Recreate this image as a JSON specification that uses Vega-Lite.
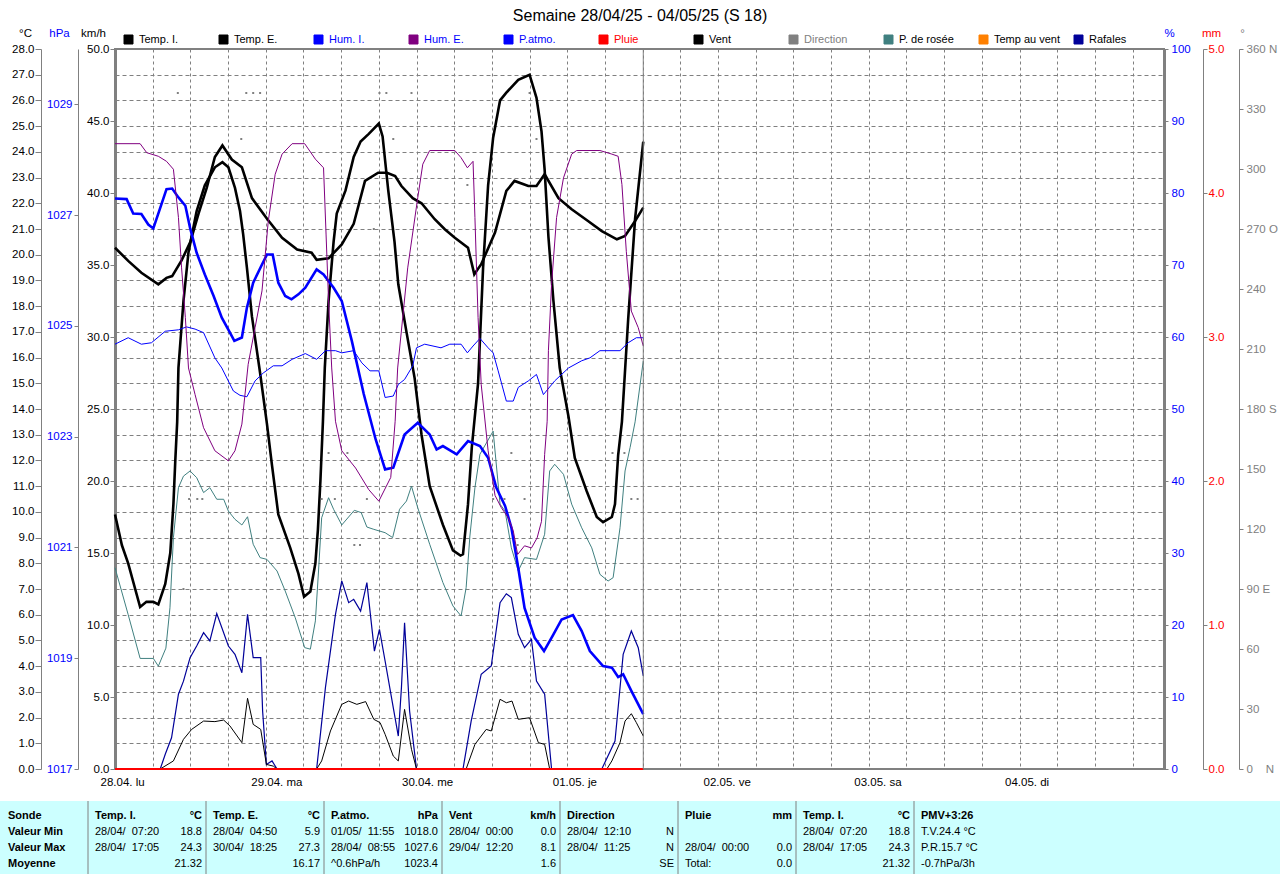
{
  "$schema": "https://vega.github.io/schema/vega-lite/v6.json",
  "padding": {"left": 0, "top": 8, "right": 0, "bottom": 0},
  "background": "white",
  "config": {
    "font": "Liberation Sans",
    "view": {"stroke": "#808080", "strokeWidth": 2},
    "axis": {"labelFont": "Liberation Sans", "labelFontSize": 11.5, "titleFont": "Liberation Sans", "titleFontSize": 11.5, "titleFontWeight": "normal", "domainColor": "#808080", "tickColor": "#808080", "labelColor": "#000000", "titleColor": "#000000", "grid": false, "labelOverlap": false}
  },
  "title": {"text": "Semaine 28/04/25 - 04/05/25 (S 18)", "anchor": "middle", "frame": "bounds", "fontSize": 16, "fontWeight": "normal", "font": "Liberation Sans", "color": "#000000", "offset": 2},
  "datasets": {
    "ti": [{"h":0,"v":20.27},{"h":2.1,"v":19.76},{"h":4.2,"v":19.3},{"h":6.9,"v":18.85},{"h":8.2,"v":19.1},{"h":9.1,"v":19.17},{"h":10.6,"v":19.78},{"h":12.0,"v":20.5},{"h":13.3,"v":21.6},{"h":14.6,"v":22.6},{"h":15.9,"v":23.8},{"h":17.1,"v":24.25},{"h":18.6,"v":23.7},{"h":20.2,"v":23.4},{"h":21.8,"v":22.2},{"h":24.2,"v":21.4},{"h":26.6,"v":20.66},{"h":29.0,"v":20.2},{"h":31.3,"v":20.08},{"h":32.1,"v":19.8},{"h":34.0,"v":19.86},{"h":36.1,"v":20.4},{"h":38.0,"v":21.2},{"h":39.8,"v":22.87},{"h":41.9,"v":23.19},{"h":43.3,"v":23.19},{"h":44.6,"v":23.06},{"h":45.6,"v":22.67},{"h":47.4,"v":22.2},{"h":48.8,"v":22.0},{"h":50.9,"v":21.38},{"h":52.5,"v":20.99},{"h":54.1,"v":20.66},{"h":56.2,"v":20.27},{"h":57.2,"v":19.24},{"h":58.3,"v":19.63},{"h":60.5,"v":20.86},{"h":62.3,"v":22.48},{"h":63.6,"v":22.87},{"h":65.8,"v":22.67},{"h":67.1,"v":22.67},{"h":68.4,"v":23.13},{"h":70.6,"v":22.2},{"h":72.7,"v":21.77},{"h":75.3,"v":21.31},{"h":77.5,"v":20.92},{"h":79.9,"v":20.6},{"h":81.2,"v":20.73},{"h":82.8,"v":21.31},{"h":84.1,"v":21.83}],
    "te": [{"h":0,"v":9.9},{"h":1.1,"v":8.7},{"h":2.1,"v":8.0},{"h":4.0,"v":6.3},{"h":5.0,"v":6.5},{"h":6.1,"v":6.5},{"h":6.9,"v":6.4},{"h":8.0,"v":7.2},{"h":8.8,"v":8.4},{"h":9.3,"v":10.3},{"h":9.6,"v":12.0},{"h":9.9,"v":13.5},{"h":10.1,"v":15.6},{"h":10.9,"v":18.2},{"h":11.7,"v":20.1},{"h":13.0,"v":21.7},{"h":14.3,"v":22.7},{"h":15.9,"v":23.4},{"h":17.1,"v":23.6},{"h":18.05,"v":23.4},{"h":19.1,"v":22.6},{"h":19.9,"v":21.7},{"h":20.4,"v":20.8},{"h":21.0,"v":19.5},{"h":21.8,"v":17.6},{"h":23.1,"v":15.4},{"h":24.2,"v":13.4},{"h":25.0,"v":11.8},{"h":26.0,"v":9.9},{"h":27.9,"v":8.6},{"h":29.2,"v":7.6},{"h":30.1,"v":6.7},{"h":31.1,"v":6.9},{"h":31.9,"v":8.0},{"h":32.3,"v":9.3},{"h":32.7,"v":11.2},{"h":33.1,"v":13.5},{"h":33.4,"v":15.6},{"h":34.0,"v":18.2},{"h":34.8,"v":20.5},{"h":35.3,"v":21.6},{"h":36.7,"v":22.5},{"h":38.0,"v":23.8},{"h":39.1,"v":24.4},{"h":40.4,"v":24.7},{"h":42.0,"v":25.1},{"h":42.6,"v":24.6},{"h":43.5,"v":22.5},{"h":44.5,"v":20.5},{"h":45.1,"v":18.85},{"h":46.4,"v":17.0},{"h":47.7,"v":15.2},{"h":48.8,"v":13.0},{"h":50.1,"v":11.0},{"h":52.2,"v":9.5},{"h":53.8,"v":8.5},{"h":55.0,"v":8.3},{"h":55.4,"v":8.35},{"h":56.2,"v":10.3},{"h":56.8,"v":12.5},{"h":57.8,"v":15.0},{"h":58.6,"v":19.5},{"h":59.4,"v":22.7},{"h":60.2,"v":24.55},{"h":61.3,"v":26.0},{"h":62.3,"v":26.3},{"h":64.2,"v":26.8},{"h":66.0,"v":27.0},{"h":67.1,"v":26.1},{"h":67.9,"v":24.8},{"h":68.4,"v":23.3},{"h":69.0,"v":20.7},{"h":69.8,"v":18.2},{"h":70.8,"v":15.6},{"h":72.2,"v":13.7},{"h":73.2,"v":12.1},{"h":75.1,"v":10.8},{"h":76.7,"v":9.8},{"h":77.7,"v":9.6},{"h":79.1,"v":9.8},{"h":79.6,"v":10.3},{"h":80.1,"v":12.2},{"h":80.7,"v":13.5},{"h":81.7,"v":17.5},{"h":82.8,"v":21.4},{"h":84.1,"v":24.4}],
    "dp": [{"h":0,"v":7.83},{"h":2.1,"v":6.0},{"h":4.0,"v":4.3},{"h":6.1,"v":4.3},{"h":6.9,"v":4.0},{"h":8.1,"v":4.7},{"h":8.75,"v":6.27},{"h":9.3,"v":9.0},{"h":10.1,"v":10.94},{"h":10.9,"v":11.39},{"h":11.95,"v":11.59},{"h":13.0,"v":11.33},{"h":14.1,"v":10.75},{"h":15.1,"v":10.94},{"h":16.2,"v":10.49},{"h":17.3,"v":10.49},{"h":18.05,"v":10.03},{"h":19.1,"v":9.71},{"h":20.2,"v":9.49},{"h":21.1,"v":9.81},{"h":22.0,"v":8.74},{"h":23.1,"v":8.22},{"h":24.2,"v":8.15},{"h":25.8,"v":7.7},{"h":27.1,"v":6.92},{"h":28.7,"v":5.88},{"h":30.2,"v":4.72},{"h":31.1,"v":4.66},{"h":31.9,"v":5.76},{"h":32.4,"v":7.7},{"h":32.9,"v":9.77},{"h":34.0,"v":10.55},{"h":34.8,"v":10.1},{"h":36.1,"v":9.49},{"h":38.1,"v":10.06},{"h":39.2,"v":9.97},{"h":40.1,"v":9.41},{"h":41.2,"v":9.32},{"h":43.0,"v":9.19},{"h":44.2,"v":9.0},{"h":45.3,"v":10.1},{"h":46.4,"v":10.42},{"h":47.2,"v":11.0},{"h":48.2,"v":10.16},{"h":50.1,"v":8.74},{"h":52.2,"v":7.25},{"h":53.8,"v":6.34},{"h":55.1,"v":5.95},{"h":55.9,"v":7.05},{"h":56.5,"v":9.06},{"h":57.3,"v":10.94},{"h":58.1,"v":12.24},{"h":60.2,"v":13.14},{"h":61.3,"v":10.3},{"h":62.1,"v":10.03},{"h":63.1,"v":8.6},{"h":64.2,"v":7.7},{"h":65.2,"v":8.22},{"h":67.1,"v":8.15},{"h":68.4,"v":9.13},{"h":69.2,"v":11.59},{"h":70.0,"v":11.85},{"h":71.4,"v":11.46},{"h":72.7,"v":10.3},{"h":74.3,"v":9.38},{"h":75.9,"v":8.6},{"h":77.2,"v":7.57},{"h":78.5,"v":7.31},{"h":79.3,"v":7.44},{"h":80.4,"v":9.38},{"h":81.2,"v":11.59},{"h":82.0,"v":12.5},{"h":82.8,"v":13.5},{"h":84.1,"v":15.87}],
    "pa": [{"h":0,"v":1027.3},{"h":1.85,"v":1027.29},{"h":2.9,"v":1027.03},{"h":4.2,"v":1027.02},{"h":5.3,"v":1026.83},{"h":6.1,"v":1026.76},{"h":7.2,"v":1027.13},{"h":8.2,"v":1027.47},{"h":9.1,"v":1027.48},{"h":10.1,"v":1027.32},{"h":11.2,"v":1027.17},{"h":11.95,"v":1026.77},{"h":13.0,"v":1026.32},{"h":14.3,"v":1025.93},{"h":15.7,"v":1025.54},{"h":17.0,"v":1025.15},{"h":18.3,"v":1024.88},{"h":19.0,"v":1024.73},{"h":20.2,"v":1024.79},{"h":21.0,"v":1025.33},{"h":22.0,"v":1025.78},{"h":23.4,"v":1026.11},{"h":24.2,"v":1026.29},{"h":25.1,"v":1026.29},{"h":26.0,"v":1025.78},{"h":27.1,"v":1025.54},{"h":28.1,"v":1025.48},{"h":29.2,"v":1025.57},{"h":30.3,"v":1025.69},{"h":32.1,"v":1026.02},{"h":33.2,"v":1025.93},{"h":34.8,"v":1025.69},{"h":36.1,"v":1025.45},{"h":37.7,"v":1024.73},{"h":39.6,"v":1023.77},{"h":41.5,"v":1022.95},{"h":43.0,"v":1022.41},{"h":44.3,"v":1022.44},{"h":46.1,"v":1023.04},{"h":48.2,"v":1023.25},{"h":50.1,"v":1023.04},{"h":51.2,"v":1022.77},{"h":52.2,"v":1022.83},{"h":54.4,"v":1022.68},{"h":56.2,"v":1022.92},{"h":58.1,"v":1022.83},{"h":59.4,"v":1022.62},{"h":60.7,"v":1022.08},{"h":62.1,"v":1021.75},{"h":63.1,"v":1021.36},{"h":64.2,"v":1020.63},{"h":65.2,"v":1019.91},{"h":66.8,"v":1019.37},{"h":68.3,"v":1019.13},{"h":69.8,"v":1019.43},{"h":71.1,"v":1019.7},{"h":72.9,"v":1019.78},{"h":74.3,"v":1019.49},{"h":75.6,"v":1019.13},{"h":77.7,"v":1018.86},{"h":79.1,"v":1018.83},{"h":80.1,"v":1018.66},{"h":80.9,"v":1018.71},{"h":82.2,"v":1018.41},{"h":84.1,"v":1017.99}],
    "he": [{"h":0,"v":86.85},{"h":4.0,"v":86.85},{"h":5.05,"v":85.6},{"h":6.9,"v":85.1},{"h":8.2,"v":84.4},{"h":9.3,"v":83.3},{"h":10.1,"v":76.6},{"h":10.6,"v":69.6},{"h":11.2,"v":62.7},{"h":11.7,"v":55.7},{"h":12.75,"v":52.0},{"h":14.1,"v":47.4},{"h":15.9,"v":44.2},{"h":18.05,"v":42.8},{"h":19.1,"v":44.2},{"h":20.2,"v":47.9},{"h":21.2,"v":56.2},{"h":22.3,"v":61.3},{"h":23.4,"v":66.4},{"h":24.4,"v":76.1},{"h":25.5,"v":82.6},{"h":26.6,"v":85.4},{"h":28.2,"v":86.85},{"h":30.2,"v":86.85},{"h":31.9,"v":84.7},{"h":33.2,"v":83.5},{"h":33.6,"v":74.3},{"h":34.0,"v":65.0},{"h":34.5,"v":55.7},{"h":35.1,"v":48.3},{"h":36.1,"v":44.2},{"h":38.3,"v":41.8},{"h":40.4,"v":38.8},{"h":42.0,"v":37.2},{"h":43.9,"v":40.5},{"h":44.6,"v":48.3},{"h":45.0,"v":55.7},{"h":46.6,"v":69.6},{"h":48.2,"v":79.35},{"h":49.0,"v":84.0},{"h":50.1,"v":85.9},{"h":54.1,"v":85.9},{"h":55.1,"v":84.9},{"h":56.1,"v":83.5},{"h":57.0,"v":84.4},{"h":57.3,"v":76.6},{"h":57.8,"v":62.7},{"h":58.3,"v":53.4},{"h":59.4,"v":44.2},{"h":60.5,"v":38.0},{"h":61.5,"v":36.3},{"h":62.6,"v":34.9},{"h":63.4,"v":33.1},{"h":64.1,"v":29.8},{"h":65.2,"v":31.0},{"h":66.3,"v":30.7},{"h":67.2,"v":32.1},{"h":67.9,"v":34.4},{"h":68.4,"v":43.7},{"h":68.8,"v":48.3},{"h":69.0,"v":58.1},{"h":69.5,"v":67.3},{"h":70.3,"v":76.6},{"h":71.4,"v":82.1},{"h":72.7,"v":85.4},{"h":73.5,"v":85.9},{"h":77.2,"v":85.9},{"h":79.1,"v":85.4},{"h":80.1,"v":85.1},{"h":80.7,"v":81.2},{"h":81.4,"v":71.9},{"h":82.2,"v":63.6},{"h":83.3,"v":61.3},{"h":84.1,"v":58.75}],
    "hi": [{"h":0,"v":59.0},{"h":2.1,"v":59.9},{"h":4.2,"v":59.0},{"h":5.8,"v":59.2},{"h":8.0,"v":60.8},{"h":10.1,"v":61.0},{"h":11.4,"v":61.4},{"h":12.75,"v":61.1},{"h":14.1,"v":60.6},{"h":15.9,"v":57.1},{"h":17.0,"v":55.7},{"h":18.85,"v":52.5},{"h":19.9,"v":51.9},{"h":21.0,"v":51.7},{"h":22.3,"v":53.9},{"h":23.6,"v":55.0},{"h":25.2,"v":56.0},{"h":26.6,"v":56.0},{"h":28.2,"v":56.9},{"h":30.3,"v":57.7},{"h":32.1,"v":56.9},{"h":33.5,"v":58.1},{"h":35.1,"v":58.1},{"h":36.1,"v":57.8},{"h":38.0,"v":58.1},{"h":39.3,"v":56.4},{"h":40.6,"v":55.3},{"h":42.0,"v":55.3},{"h":43.0,"v":51.6},{"h":44.3,"v":51.8},{"h":45.1,"v":53.4},{"h":46.1,"v":54.1},{"h":47.4,"v":56.0},{"h":48.0,"v":58.5},{"h":49.3,"v":59.0},{"h":51.9,"v":58.5},{"h":53.3,"v":59.0},{"h":55.1,"v":59.0},{"h":56.1,"v":57.8},{"h":57.0,"v":58.75},{"h":58.1,"v":59.8},{"h":59.4,"v":58.5},{"h":60.2,"v":57.8},{"h":61.0,"v":55.3},{"h":62.3,"v":51.1},{"h":63.4,"v":51.1},{"h":64.2,"v":53.0},{"h":65.8,"v":53.9},{"h":67.1,"v":54.8},{"h":68.2,"v":52.0},{"h":70.0,"v":53.9},{"h":72.2,"v":55.7},{"h":74.3,"v":56.7},{"h":75.6,"v":57.1},{"h":77.2,"v":58.1},{"h":80.4,"v":58.1},{"h":81.7,"v":59.2},{"h":83.0,"v":59.9},{"h":84.1,"v":59.9}],
    "rf": [{"h":0,"v":0},{"h":7.2,"v":0},{"h":8.0,"v":1.02},{"h":9.0,"v":2.17},{"h":10.1,"v":5.19},{"h":10.9,"v":6.1},{"h":11.95,"v":7.73},{"h":13.0,"v":8.54},{"h":14.1,"v":9.47},{"h":15.1,"v":8.89},{"h":16.2,"v":10.79},{"h":18.05,"v":8.54},{"h":19.1,"v":7.96},{"h":20.2,"v":6.69},{"h":21.1,"v":10.74},{"h":22.0,"v":7.73},{"h":23.2,"v":7.73},{"h":23.5,"v":4.03},{"h":24.1,"v":0.32},{"h":25.0,"v":0.56},{"h":25.8,"v":0},{"h":32.1,"v":0},{"h":33.5,"v":5.65},{"h":35.1,"v":10.74},{"h":36.1,"v":13.06},{"h":37.2,"v":11.55},{"h":38.0,"v":11.78},{"h":39.1,"v":10.97},{"h":40.1,"v":12.94},{"h":41.3,"v":8.19},{"h":42.1,"v":9.7},{"h":43.0,"v":7.5},{"h":44.3,"v":4.26},{"h":45.1,"v":2.29},{"h":45.6,"v":5.65},{"h":46.1,"v":10.16},{"h":46.9,"v":4.03},{"h":48.0,"v":0},{"h":55.4,"v":0},{"h":56.7,"v":3.33},{"h":58.3,"v":6.58},{"h":59.9,"v":7.15},{"h":61.3,"v":11.55},{"h":62.3,"v":12.17},{"h":63.1,"v":11.9},{"h":64.2,"v":9.35},{"h":65.2,"v":8.42},{"h":66.3,"v":9.0},{"h":67.1,"v":6.1},{"h":68.4,"v":5.19},{"h":69.5,"v":0},{"h":77.5,"v":0},{"h":79.6,"v":1.94},{"h":80.9,"v":7.96},{"h":82.2,"v":9.58},{"h":83.3,"v":8.42},{"h":84.1,"v":6.46}],
    "vt": [{"h":0,"v":0},{"h":7.2,"v":0},{"h":9.3,"v":0.56},{"h":10.9,"v":2.06},{"h":12.2,"v":2.75},{"h":14.1,"v":3.33},{"h":15.9,"v":3.29},{"h":17.3,"v":3.4},{"h":18.3,"v":2.99},{"h":20.2,"v":1.83},{"h":21.1,"v":4.91},{"h":22.0,"v":3.1},{"h":23.2,"v":2.75},{"h":24.1,"v":0.32},{"h":25.2,"v":0.2},{"h":25.8,"v":0},{"h":32.1,"v":0},{"h":32.9,"v":0.56},{"h":34.3,"v":2.64},{"h":36.1,"v":4.49},{"h":37.2,"v":4.72},{"h":38.5,"v":4.49},{"h":39.9,"v":4.68},{"h":41.2,"v":3.45},{"h":42.2,"v":3.22},{"h":43.0,"v":2.41},{"h":44.3,"v":0.9},{"h":45.1,"v":0.56},{"h":46.1,"v":4.14},{"h":47.2,"v":1.37},{"h":48.0,"v":0},{"h":55.9,"v":0},{"h":57.3,"v":1.71},{"h":59.1,"v":2.75},{"h":59.9,"v":2.64},{"h":61.3,"v":4.84},{"h":62.3,"v":4.6},{"h":63.2,"v":4.72},{"h":64.2,"v":3.45},{"h":66.0,"v":3.56},{"h":67.4,"v":1.83},{"h":68.4,"v":1.71},{"h":69.2,"v":0},{"h":78.3,"v":0},{"h":79.1,"v":0.56},{"h":80.4,"v":1.83},{"h":81.2,"v":3.33},{"h":82.2,"v":3.84},{"h":83.0,"v":3.22},{"h":84.1,"v":2.29}],
    "pl": [{"h":0,"v":0},{"h":84.1,"v":0}],
    "dir": [{"h":10.0,"v":338},{"h":20.9,"v":338},{"h":22.0,"v":338},{"h":23.1,"v":338},{"h":20.1,"v":315},{"h":10.9,"v":90},{"h":11.8,"v":135},{"h":13.1,"v":135},{"h":13.9,"v":135},{"h":32.9,"v":135},{"h":34.0,"v":158},{"h":35.0,"v":135},{"h":37.0,"v":158},{"h":38.1,"v":112},{"h":39.0,"v":112},{"h":40.1,"v":135},{"h":41.2,"v":270},{"h":42.1,"v":338},{"h":43.2,"v":338},{"h":44.3,"v":315},{"h":47.2,"v":338},{"h":56.1,"v":292},{"h":60.2,"v":135},{"h":62.0,"v":135},{"h":63.1,"v":158},{"h":64.1,"v":112},{"h":65.2,"v":135},{"h":66.0,"v":338},{"h":67.1,"v":315},{"h":79.2,"v":158},{"h":81.1,"v":158},{"h":82.2,"v":135},{"h":83.2,"v":135}],
    "now": [{"h":84.1}],
    "seps": [{"c":1},{"c":2},{"c":3},{"c":4},{"c":5},{"c":6},{"c":7},{"c":8}],
    "tbl": [
      {"c":0,"r":0,"t":"Sonde","a":"s","w":"b"},
      {"c":0,"r":1,"t":"Valeur Min","a":"s","w":"b"},
      {"c":0,"r":2,"t":"Valeur Max","a":"s","w":"b"},
      {"c":0,"r":3,"t":"Moyenne","a":"s","w":"b"},
      {"c":1,"r":0,"t":"Temp. I.","a":"l","w":"b"},{"c":1,"r":0,"t":"°C","a":"r","w":"b"},
      {"c":1,"r":1,"t":"28/04/\u00a0 07:20","a":"l","w":"n"},{"c":1,"r":1,"t":"18.8","a":"r","w":"n"},
      {"c":1,"r":2,"t":"28/04/\u00a0 17:05","a":"l","w":"n"},{"c":1,"r":2,"t":"24.3","a":"r","w":"n"},
      {"c":1,"r":3,"t":"21.32","a":"r","w":"n"},
      {"c":2,"r":0,"t":"Temp. E.","a":"l","w":"b"},{"c":2,"r":0,"t":"°C","a":"r","w":"b"},
      {"c":2,"r":1,"t":"28/04/\u00a0 04:50","a":"l","w":"n"},{"c":2,"r":1,"t":"5.9","a":"r","w":"n"},
      {"c":2,"r":2,"t":"30/04/\u00a0 18:25","a":"l","w":"n"},{"c":2,"r":2,"t":"27.3","a":"r","w":"n"},
      {"c":2,"r":3,"t":"16.17","a":"r","w":"n"},
      {"c":3,"r":0,"t":"P.atmo.","a":"l","w":"b"},{"c":3,"r":0,"t":"hPa","a":"r","w":"b"},
      {"c":3,"r":1,"t":"01/05/\u00a0 11:55","a":"l","w":"n"},{"c":3,"r":1,"t":"1018.0","a":"r","w":"n"},
      {"c":3,"r":2,"t":"28/04/\u00a0 08:55","a":"l","w":"n"},{"c":3,"r":2,"t":"1027.6","a":"r","w":"n"},
      {"c":3,"r":3,"t":"^0.6hPa/h","a":"l","w":"n"},{"c":3,"r":3,"t":"1023.4","a":"r","w":"n"},
      {"c":4,"r":0,"t":"Vent","a":"l","w":"b"},{"c":4,"r":0,"t":"km/h","a":"r","w":"b"},
      {"c":4,"r":1,"t":"28/04/\u00a0 00:00","a":"l","w":"n"},{"c":4,"r":1,"t":"0.0","a":"r","w":"n"},
      {"c":4,"r":2,"t":"29/04/\u00a0 12:20","a":"l","w":"n"},{"c":4,"r":2,"t":"8.1","a":"r","w":"n"},
      {"c":4,"r":3,"t":"1.6","a":"r","w":"n"},
      {"c":5,"r":0,"t":"Direction","a":"l","w":"b"},
      {"c":5,"r":1,"t":"28/04/\u00a0 12:10","a":"l","w":"n"},{"c":5,"r":1,"t":"N","a":"r","w":"n"},
      {"c":5,"r":2,"t":"28/04/\u00a0 11:25","a":"l","w":"n"},{"c":5,"r":2,"t":"N","a":"r","w":"n"},
      {"c":5,"r":3,"t":"SE","a":"r","w":"n"},
      {"c":6,"r":0,"t":"Pluie","a":"l","w":"b"},{"c":6,"r":0,"t":"mm","a":"r","w":"b"},
      {"c":6,"r":2,"t":"28/04/\u00a0 00:00","a":"l","w":"n"},{"c":6,"r":2,"t":"0.0","a":"r","w":"n"},
      {"c":6,"r":3,"t":"Total:","a":"l","w":"n"},{"c":6,"r":3,"t":"0.0","a":"r","w":"n"},
      {"c":7,"r":0,"t":"Temp. I.","a":"l","w":"b"},{"c":7,"r":0,"t":"°C","a":"r","w":"b"},
      {"c":7,"r":1,"t":"28/04/\u00a0 07:20","a":"l","w":"n"},{"c":7,"r":1,"t":"18.8","a":"r","w":"n"},
      {"c":7,"r":2,"t":"28/04/\u00a0 17:05","a":"l","w":"n"},{"c":7,"r":2,"t":"24.3","a":"r","w":"n"},
      {"c":7,"r":3,"t":"21.32","a":"r","w":"n"},
      {"c":8,"r":0,"t":"PMV+3:26","a":"l","w":"b"},
      {"c":8,"r":1,"t":"T.V.24.4 °C","a":"l","w":"n"},
      {"c":8,"r":2,"t":"P.R.15.7 °C","a":"l","w":"n"},
      {"c":8,"r":3,"t":"-0.7hPa/3h","a":"l","w":"n"}
    ]
  },
  "spacing": 11,
  "vconcat": [
    {
      "spacing": 9,
      "hconcat": [
        {"width": 1, "height": 1, "data": {"values": [{"a": 0}]}, "mark": {"type": "text", "text": ""}, "view": {"stroke": null}},
        {
          "width": 1049,
          "height": 720,
          "encoding": {
            "x": {"field": "h", "type": "quantitative", "scale": {"domain": [0, 167], "nice": false, "zero": false},
              "axis": {"title": null, "values": [0,6,12,18,24,30,36,42,48,54,60,66,72,78,84,90,96,102,108,114,120,126,132,138,144,150,156,162], "grid": true, "gridDash": [3,3], "gridColor": "#808080", "ticks": false, "tickSize": 0, "domain": false, "labelAlign": "left", "labelOffset": -15, "labelPadding": 7, "labelFlush": false, "labelOverlap": false, "labelBound": false,
                "labelExpr": "datum.value % 24 == 0 ? ['28.04. lu','29.04. ma','30.04. me','01.05. je','02.05. ve','03.05. sa','04.05. di'][datum.value/24] : ''"}}
          },
          "layer": [
            {
              "encoding": {"y": {"field": "v", "type": "quantitative", "scale": {"domain": [0, 28], "nice": false, "zero": false},
                "axis": {"orient": "left", "offset": 74, "values": [0,1,2,3,4,5,6,7,8,9,10,11,12,13,14,15,16,17,18,19,20,21,22,23,24,25,26,27,28], "format": ".1f", "grid": true, "gridDash": [4,3], "gridColor": "#808080", "gridWidth": 1, "tickSize": 6, "labelPadding": 1, "title": "°C", "titleAngle": 0, "titleX": -16, "titleY": -16, "titleAlign": "center", "titleBaseline": "middle"}}},
              "layer": [
                {"data": {"name": "dp"}, "mark": {"type": "line", "strokeWidth": 1},
                  "encoding": {"color": {"datum": "P. de rosée", "type": "nominal", "scale": {"domain": ["Temp. I.","Temp. E.","Hum. I.","Hum. E.","P.atmo.","Pluie","Vent","Direction","P. de rosée","Temp au vent","Rafales"], "range": ["#000000","#000000","#0000ff","#800080","#0000ff","#ff0000","#000000","#808080","#408080","#ff8000","#000099"]},
                    "legend": {"title": null, "orient": "none", "legendX": 123, "legendY": -15, "direction": "horizontal", "columns": 11, "gridAlign": "all", "columnPadding": 11, "symbolType": "square", "symbolSize": 81, "symbolStrokeWidth": 1, "symbolStrokeColor": "#000000", "symbolOpacity": 1, "labelFont": "Liberation Sans", "labelFontSize": 11, "labelOffset": 5, "padding": 0,
                      "encode": {"symbols": {"update": {"fill": {"scale": "color", "field": "value"}, "stroke": {"value": "#000000"}, "strokeWidth": {"value": 1}, "opacity": {"value": 1}}},
                                 "labels": {"update": {"fill": {"signal": "indexof(['Hum. I.','Hum. E.','P.atmo.'], datum.value) >= 0 ? '#0000ff' : datum.value == 'Pluie' ? '#ff0000' : datum.value == 'Direction' ? '#808080' : '#000000'"}}}}}}}},
                {"data": {"name": "te"}, "mark": {"type": "line", "strokeWidth": 2.6},
                  "encoding": {"color": {"datum": "Temp. E.", "type": "nominal", "scale": {"domain": ["Temp. I.","Temp. E.","Hum. I.","Hum. E.","P.atmo.","Pluie","Vent","Direction","P. de rosée","Temp au vent","Rafales"], "range": ["#000000","#000000","#0000ff","#800080","#0000ff","#ff0000","#000000","#808080","#408080","#ff8000","#000099"]}, "legend": {"title": null, "symbolType": "square"}}}},
                {"data": {"name": "ti"}, "mark": {"type": "line", "strokeWidth": 2.6},
                  "encoding": {"color": {"datum": "Temp. I.", "type": "nominal", "scale": {"domain": ["Temp. I.","Temp. E.","Hum. I.","Hum. E.","P.atmo.","Pluie","Vent","Direction","P. de rosée","Temp au vent","Rafales"], "range": ["#000000","#000000","#0000ff","#800080","#0000ff","#ff0000","#000000","#808080","#408080","#ff8000","#000099"]}, "legend": {"title": null, "symbolType": "square"}}}}
              ]
            },
            {
              "data": {"name": "pa"},
              "mark": {"type": "line", "strokeWidth": 2.6},
              "encoding": {
                "y": {"field": "v", "type": "quantitative", "scale": {"domain": [1017, 1030], "nice": false, "zero": false},
                  "axis": {"orient": "left", "offset": 37, "values": [1017,1019,1021,1023,1025,1027,1029], "format": "d", "tickSize": 4, "labelPadding": 2, "labelColor": "#0000ff", "title": "hPa", "titleColor": "#0000ff", "titleAngle": 0, "titleX": -19, "titleY": -16, "titleAlign": "center", "titleBaseline": "middle"}},
                "color": {"datum": "P.atmo.", "type": "nominal", "scale": {"domain": ["Temp. I.","Temp. E.","Hum. I.","Hum. E.","P.atmo.","Pluie","Vent","Direction","P. de rosée","Temp au vent","Rafales"], "range": ["#000000","#000000","#0000ff","#800080","#0000ff","#ff0000","#000000","#808080","#408080","#ff8000","#000099"]}, "legend": {"title": null, "symbolType": "square"}}
              }
            },
            {
              "encoding": {"y": {"field": "v", "type": "quantitative", "scale": {"domain": [0, 50], "nice": false, "zero": false},
                "axis": {"orient": "left", "offset": 0, "values": [0,5,10,15,20,25,30,35,40,45,50], "format": ".1f", "tickSize": 5, "labelPadding": 1, "domainWidth": 3, "title": "km/h", "titleAngle": 0, "titleX": -22, "titleY": -16, "titleAlign": "center", "titleBaseline": "middle"}}},
              "layer": [
                {"data": {"name": "rf"}, "mark": {"type": "line", "strokeWidth": 1.2},
                  "encoding": {"color": {"datum": "Rafales", "type": "nominal", "scale": {"domain": ["Temp. I.","Temp. E.","Hum. I.","Hum. E.","P.atmo.","Pluie","Vent","Direction","P. de rosée","Temp au vent","Rafales"], "range": ["#000000","#000000","#0000ff","#800080","#0000ff","#ff0000","#000000","#808080","#408080","#ff8000","#000099"]}, "legend": {"title": null, "symbolType": "square"}}}},
                {"data": {"name": "vt"}, "mark": {"type": "line", "strokeWidth": 1},
                  "encoding": {"color": {"datum": "Vent", "type": "nominal", "scale": {"domain": ["Temp. I.","Temp. E.","Hum. I.","Hum. E.","P.atmo.","Pluie","Vent","Direction","P. de rosée","Temp au vent","Rafales"], "range": ["#000000","#000000","#0000ff","#800080","#0000ff","#ff0000","#000000","#808080","#408080","#ff8000","#000099"]}, "legend": {"title": null, "symbolType": "square"}}}}
              ]
            },
            {
              "encoding": {"y": {"field": "v", "type": "quantitative", "scale": {"domain": [0, 100], "nice": false, "zero": false},
                "axis": {"orient": "right", "offset": 0, "values": [0,10,20,30,40,50,60,70,80,90,100], "format": "d", "tickSize": 4, "labelPadding": 3, "domainWidth": 3, "labelColor": "#0000ff", "title": "%", "titleColor": "#0000ff", "titleAngle": 0, "titleX": 5, "titleY": -16, "titleAlign": "center", "titleBaseline": "middle"}}},
              "layer": [
                {"data": {"name": "hi"}, "mark": {"type": "line", "strokeWidth": 1},
                  "encoding": {"color": {"datum": "Hum. I.", "type": "nominal", "scale": {"domain": ["Temp. I.","Temp. E.","Hum. I.","Hum. E.","P.atmo.","Pluie","Vent","Direction","P. de rosée","Temp au vent","Rafales"], "range": ["#000000","#000000","#0000ff","#800080","#0000ff","#ff0000","#000000","#808080","#408080","#ff8000","#000099"]}, "legend": {"title": null, "symbolType": "square"}}}},
                {"data": {"name": "he"}, "mark": {"type": "line", "strokeWidth": 1},
                  "encoding": {"color": {"datum": "Hum. E.", "type": "nominal", "scale": {"domain": ["Temp. I.","Temp. E.","Hum. I.","Hum. E.","P.atmo.","Pluie","Vent","Direction","P. de rosée","Temp au vent","Rafales"], "range": ["#000000","#000000","#0000ff","#800080","#0000ff","#ff0000","#000000","#808080","#408080","#ff8000","#000099"]}, "legend": {"title": null, "symbolType": "square"}}}}
              ]
            },
            {
              "data": {"name": "pl"},
              "mark": {"type": "line", "strokeWidth": 2},
              "encoding": {
                "y": {"field": "v", "type": "quantitative", "scale": {"domain": [0, 5], "nice": false, "zero": false},
                  "axis": {"orient": "right", "offset": 39, "values": [0,1,2,3,4,5], "format": ".1f", "tickSize": 4, "labelPadding": 1, "labelColor": "#ff0000", "title": "mm", "titleColor": "#ff0000", "titleAngle": 0, "titleX": 8, "titleY": -16, "titleAlign": "center", "titleBaseline": "middle"}},
                "color": {"datum": "Pluie", "type": "nominal", "scale": {"domain": ["Temp. I.","Temp. E.","Hum. I.","Hum. E.","P.atmo.","Pluie","Vent","Direction","P. de rosée","Temp au vent","Rafales"], "range": ["#000000","#000000","#0000ff","#800080","#0000ff","#ff0000","#000000","#808080","#408080","#ff8000","#000099"]}, "legend": {"title": null, "symbolType": "square"}}
              }
            },
            {
              "data": {"name": "dir"},
              "mark": {"type": "square", "size": 4, "filled": true, "opacity": 1},
              "encoding": {
                "y": {"field": "v", "type": "quantitative", "scale": {"domain": [0, 360], "nice": false, "zero": false},
                  "axis": {"orient": "right", "offset": 75, "values": [0,30,60,90,120,150,180,210,240,270,300,330,360], "tickSize": 4, "labelPadding": 3, "labelColor": "#808080", "title": "°", "titleColor": "#808080", "titleAngle": 0, "titleX": 3, "titleY": -16, "titleAlign": "center", "titleBaseline": "middle",
                    "labelExpr": "datum.value == 360 ? '360 N' : datum.value == 270 ? '270 O' : datum.value == 180 ? '180 S' : datum.value == 90 ? '90 E' : datum.value == 0 ? '0\u00a0\u00a0\u00a0\u00a0N' : datum.label"}},
                "color": {"datum": "Direction", "type": "nominal", "scale": {"domain": ["Temp. I.","Temp. E.","Hum. I.","Hum. E.","P.atmo.","Pluie","Vent","Direction","P. de rosée","Temp au vent","Rafales"], "range": ["#000000","#000000","#0000ff","#800080","#0000ff","#ff0000","#000000","#808080","#408080","#ff8000","#000099"]}, "legend": {"title": null, "symbolType": "square"}}
              }
            },
            {
              "data": {"name": "now"},
              "mark": {"type": "rule", "color": "#808080", "strokeWidth": 1},
              "encoding": {}
            }
          ],
          "resolve": {"scale": {"y": "independent"}, "axis": {"y": "independent"}}
        }
      ]
    },
    {
      "width": 1280,
      "height": 74,
      "view": {"fill": "#ccffff", "stroke": null},
      "layer": [
        {"data": {"name": "seps"}, "mark": {"type": "rule", "color": "#808080", "strokeWidth": 1},
          "encoding": {"x": {"field": "c", "type": "ordinal", "bandPosition": 0, "axis": null, "scale": {"type": "band", "domain": [0,1,2,3,4,5,6,7,8,9,10], "range": [-30, 1268], "paddingInner": 0, "paddingOuter": 0}}}},
        {"data": {"name": "tbl"}, "transform": [{"filter": "datum.a == 's'"}],
          "mark": {"type": "text", "align": "left", "baseline": "middle", "dx": 38, "fontWeight": "bold", "fontSize": 11, "font": "Liberation Sans", "color": "#000000"},
          "encoding": {"x": {"field": "c", "type": "ordinal", "bandPosition": 0, "axis": null, "scale": {"type": "band", "domain": [0,1,2,3,4,5,6,7,8,9,10], "range": [-30, 1268], "paddingInner": 0, "paddingOuter": 0}},
            "y": {"field": "r", "type": "ordinal", "axis": null, "scale": {"type": "point", "domain": [0,1,2,3], "range": [15, 63], "padding": 0}}, "text": {"field": "t"}}},
        {"data": {"name": "tbl"}, "transform": [{"filter": "datum.a == 'l' && datum.w == 'b'"}],
          "mark": {"type": "text", "align": "left", "baseline": "middle", "dx": 7, "fontWeight": "bold", "fontSize": 11, "font": "Liberation Sans", "color": "#000000"},
          "encoding": {"x": {"field": "c", "type": "ordinal", "bandPosition": 0, "axis": null, "scale": {"type": "band", "domain": [0,1,2,3,4,5,6,7,8,9,10], "range": [-30, 1268], "paddingInner": 0, "paddingOuter": 0}},
            "y": {"field": "r", "type": "ordinal", "axis": null, "scale": {"type": "point", "domain": [0,1,2,3], "range": [15, 63], "padding": 0}}, "text": {"field": "t"}}},
        {"data": {"name": "tbl"}, "transform": [{"filter": "datum.a == 'l' && datum.w == 'n'"}],
          "mark": {"type": "text", "align": "left", "baseline": "middle", "dx": 7, "fontWeight": "normal", "fontSize": 11, "font": "Liberation Sans", "color": "#000000"},
          "encoding": {"x": {"field": "c", "type": "ordinal", "bandPosition": 0, "axis": null, "scale": {"type": "band", "domain": [0,1,2,3,4,5,6,7,8,9,10], "range": [-30, 1268], "paddingInner": 0, "paddingOuter": 0}},
            "y": {"field": "r", "type": "ordinal", "axis": null, "scale": {"type": "point", "domain": [0,1,2,3], "range": [15, 63], "padding": 0}}, "text": {"field": "t"}}},
        {"data": {"name": "tbl"}, "transform": [{"filter": "datum.a == 'r' && datum.w == 'b'"}],
          "mark": {"type": "text", "align": "right", "baseline": "middle", "dx": -4, "fontWeight": "bold", "fontSize": 11, "font": "Liberation Sans", "color": "#000000"},
          "encoding": {"x": {"field": "c", "type": "ordinal", "bandPosition": 1, "axis": null, "scale": {"type": "band", "domain": [0,1,2,3,4,5,6,7,8,9,10], "range": [-30, 1268], "paddingInner": 0, "paddingOuter": 0}},
            "y": {"field": "r", "type": "ordinal", "axis": null, "scale": {"type": "point", "domain": [0,1,2,3], "range": [15, 63], "padding": 0}}, "text": {"field": "t"}}},
        {"data": {"name": "tbl"}, "transform": [{"filter": "datum.a == 'r' && datum.w == 'n'"}],
          "mark": {"type": "text", "align": "right", "baseline": "middle", "dx": -4, "fontWeight": "normal", "fontSize": 11, "font": "Liberation Sans", "color": "#000000"},
          "encoding": {"x": {"field": "c", "type": "ordinal", "bandPosition": 1, "axis": null, "scale": {"type": "band", "domain": [0,1,2,3,4,5,6,7,8,9,10], "range": [-30, 1268], "paddingInner": 0, "paddingOuter": 0}},
            "y": {"field": "r", "type": "ordinal", "axis": null, "scale": {"type": "point", "domain": [0,1,2,3], "range": [15, 63], "padding": 0}}, "text": {"field": "t"}}}
      ]
    }
  ]
}
